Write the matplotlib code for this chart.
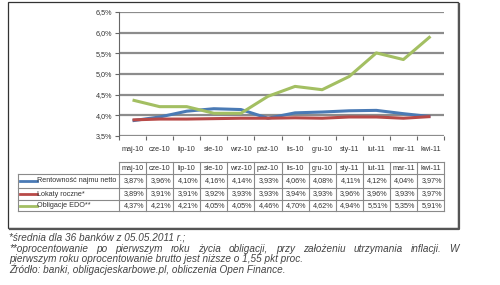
import matplotlib.pyplot as plt
from matplotlib.lines import Line2D
from matplotlib.patches import Rectangle

plt.rcParams['font.family'] = ['Liberation Sans', 'DejaVu Sans']

months = ['maj-10', 'cze-10', 'lip-10', 'sie-10', 'wrz-10', 'paź-10',
          'lis-10', 'gru-10', 'sty-11', 'lut-11', 'mar-11', 'kwi-11']
rentownosc = [3.87, 3.96, 4.10, 4.16, 4.14, 3.93, 4.06, 4.08, 4.11, 4.12, 4.04, 3.97]
lokaty = [3.89, 3.91, 3.91, 3.92, 3.93, 3.93, 3.94, 3.93, 3.96, 3.96, 3.93, 3.97]
obligacje = [4.37, 4.21, 4.21, 4.05, 4.05, 4.46, 4.70, 4.62, 4.94, 5.51, 5.35, 5.91]
series_names = ['Rentowność najmu netto', 'Lokaty roczne*', 'Obligacje EDO**']
colors = ['#4a7ab5', '#b84a48', '#a3bf62']
footnotes = ['*średnia dla 36 banków z 05.05.2011 r.;',
             '**oprocentowanie po pierwszym roku życia obligacji, przy założeniu utrzymania inflacji. W',
             'pierwszym roku oprocentowanie brutto jest niższe o 1,55 pkt proc.',
             'Źródło: banki, obligacjeskarbowe.pl, obliczenia Open Finance.']

tfs = 5.2

W, H = 500, 285
fig = plt.figure(figsize=(W / 100, H / 100), dpi=100)
fig.patch.set_facecolor('white')

def fx(px):
    return px / W

def fy(py):
    return 1 - py / H

# outer frame with shadow
fig.add_artist(Line2D([fx(10), fx(459), fx(459)], [fy(229), fy(229), fy(4)],
                      transform=fig.transFigure, color='#555555', lw=1.6))
fig.add_artist(Rectangle((fx(8), fy(228)), fx(450), 226 / H, transform=fig.transFigure,
                         fill=False, edgecolor='#333333', lw=0.9))

x0, x1 = 119, 444
ax = fig.add_axes([fx(x0), fy(136), fx(x1 - x0), (136 - 12) / H])
n = len(months)
xs = list(range(n))
for vals, c in zip([rentownosc, lokaty, obligacje], colors):
    ax.plot(xs, vals, color=c, lw=2.2, solid_capstyle='butt', zorder=3)

ax.set_xlim(-0.5, n - 0.5)
ax.set_ylim(3.5, 6.5)
yt = [3.5, 4.0, 4.5, 5.0, 5.5, 6.0, 6.5]
ax.set_yticks(yt)
ax.set_yticklabels([('%.1f%%' % v).replace('.', ',') for v in yt], fontsize=tfs,
                   color='#333333')
ax.yaxis.grid(True, color='#8c8c8c', lw=1.6)
ax.set_axisbelow(True)
ax.set_xticks([i - 0.5 for i in range(n + 1)])
ax.set_xticklabels([])
ax.set_xticks(xs, minor=True)
ax.set_xticklabels(months, minor=True, fontsize=tfs, color='#333333')
ax.tick_params(axis='x', which='minor', length=0, pad=7)
ax.tick_params(axis='x', which='major', length=3, color='#666666')
ax.tick_params(axis='y', length=3, color='#666666', pad=2)
for s in ['top', 'right']:
    ax.spines[s].set_visible(False)
ax.spines['bottom'].set_visible(False)
ax.spines['left'].set_color('#666666')

# data table below the chart
cw = (x1 - x0) / n
rows_y = [162, 174, 188, 200, 211]
tcol = '#8a8a8a'
lab_x = 18

def hline(px0, px1, py):
    fig.add_artist(Line2D([fx(px0), fx(px1)], [fy(py), fy(py)], transform=fig.transFigure,
                          color=tcol, lw=0.8))

def vline(px, py0, py1):
    fig.add_artist(Line2D([fx(px), fx(px)], [fy(py0), fy(py1)], transform=fig.transFigure,
                          color=tcol, lw=0.8))

hline(x0, x1, rows_y[0])
for py in rows_y[1:]:
    hline(lab_x, x1, py)
vline(lab_x, rows_y[1], rows_y[4])
for i in range(n + 1):
    vline(x0 + i * cw, rows_y[0], rows_y[4])

for i, m in enumerate(months):
    fig.text(fx(x0 + (i + 0.5) * cw), fy((rows_y[0] + rows_y[1]) / 2), m,
             ha='center', va='center', fontsize=tfs, color='#333333')

for r, (name, vals, c) in enumerate(zip(series_names, [rentownosc, lokaty, obligacje], colors)):
    yc = fy((rows_y[r + 1] + rows_y[r + 2]) / 2)
    fig.add_artist(Line2D([fx(lab_x + 2), fx(lab_x + 19)], [yc, yc], transform=fig.transFigure,
                          color=c, lw=2.0))
    fig.text(fx(lab_x + 19), yc, name, ha='left', va='center', fontsize=tfs,
             color='#333333')
    for i, v in enumerate(vals):
        fig.text(fx(x0 + (i + 1) * cw - 2), yc, ('%.2f%%' % v).replace('.', ','),
                 ha='right', va='center', fontsize=tfs, color='#333333')

# footnotes (second line justified to the frame width)
ffs = 7.2
fig.canvas.draw()
renderer = fig.canvas.get_renderer()
for k, (t, py) in enumerate(zip(footnotes, [238, 249, 259, 269])):
    if k != 1:
        fig.text(fx(9), fy(py), t, ha='left', va='center', fontsize=ffs, style='italic',
                 color='#444444')
        continue
    words = t.split(' ')
    arts = [fig.text(0, fy(py), w, ha='left', va='center', fontsize=ffs, style='italic',
                     color='#444444') for w in words]
    widths = [a.get_window_extent(renderer).width for a in arts]
    gap = (459 - 9 - sum(widths)) / (len(words) - 1)
    pos = 9
    for a, wd in zip(arts, widths):
        a.set_x(fx(pos))
        pos += wd + gap

fig.savefig('out.png', dpi=100)
